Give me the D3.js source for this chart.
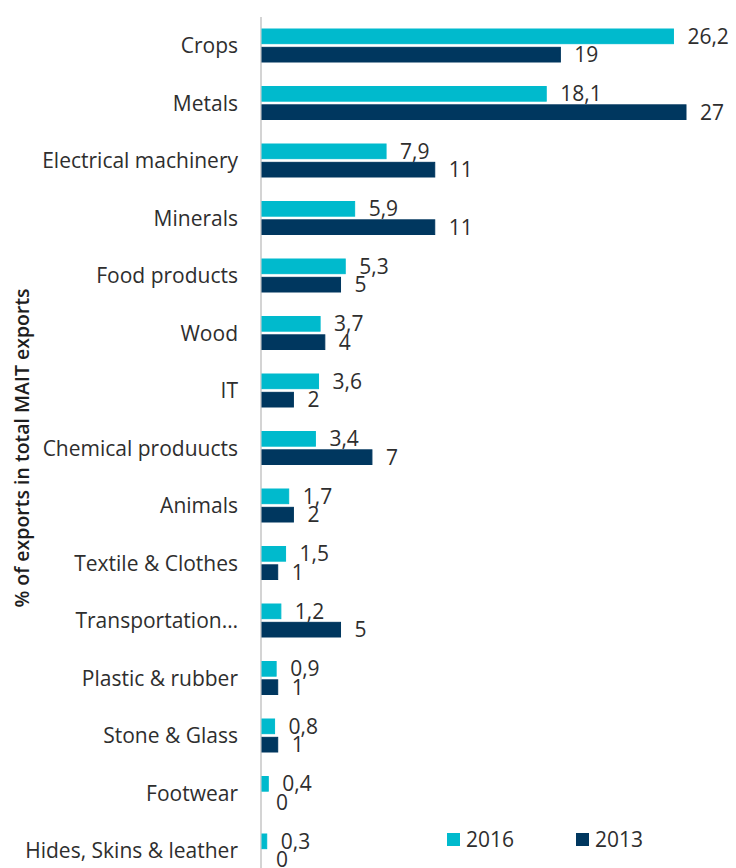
<!DOCTYPE html>
<html>
<head>
<meta charset="utf-8">
<script src="https://cdn.jsdelivr.net/npm/d3@7"></script>
<style>
  html, body { margin: 0; padding: 0; background: #fff; }
  svg { display: block; }
  text { font-family: "Open Sans", "Liberation Sans", sans-serif; }
</style>
</head>
<body>
<svg id="chart" width="736" height="868"></svg>
<script>
// Share of each product group in total MAIT exports, 2016 vs 2013 (%)
const categories = [
  "Crops", "Metals", "Electrical machinery", "Minerals", "Food products",
  "Wood", "IT", "Chemical produucts", "Animals", "Textile & Clothes",
  "Transportation…", "Plastic & rubber", "Stone & Glass", "Footwear",
  "Hides, Skins & leather"
];
const seriesNames = ["2016", "2013"];
const values2016 = [26.2, 18.1, 7.9, 5.9, 5.3, 3.7, 3.6, 3.4, 1.7, 1.5, 1.2, 0.9, 0.8, 0.4, 0.3];
const values2013 = [19, 27, 11, 11, 5, 4, 2, 7, 2, 1, 5, 1, 1, 0, 0];
const axisTitle = "% of exports in total MAIT exports";

const colors = { "2016": "#00BACD", "2013": "#00375F" };
const textColor = "#2E2E2E";

const rows = categories.map((c, i) => ({
  category: c,
  series: [
    { name: "2016", value: values2016[i] },
    { name: "2013", value: values2013[i] }
  ]
}));

const svg = d3.select("#chart");

const x = d3.scaleLinear().domain([0, 27]).range([262, 686]);
const y = d3.scaleBand().domain(categories).range([16.75, 879.25]).padding(0);
const half = y.bandwidth() / 2;
const ySub = d3.scaleBand().domain(seriesNames)
  .range([half - 16.5, half + 16.5]).paddingInner(0.2);

const fmt = v => String(v).replace(".", ",");

// vertical category axis line
svg.append("line")
  .attr("x1", 261).attr("x2", 261)
  .attr("y1", 17).attr("y2", 868)
  .attr("stroke", "#D4D4D4").attr("stroke-width", 2);

const groups = svg.append("g").selectAll("g")
  .data(rows).join("g")
  .attr("transform", d => `translate(0,${y(d.category)})`);

groups.selectAll("rect")
  .data(d => d.series).join("rect")
  .attr("x", x(0))
  .attr("y", d => ySub(d.name))
  .attr("width", d => x(d.value) - x(0))
  .attr("height", ySub.bandwidth())
  .attr("fill", d => colors[d.name])
  .attr("stroke", d => colors[d.name])
  .attr("stroke-width", 1);

groups.selectAll("text.val")
  .data(d => d.series).join("text")
  .attr("class", "val")
  .attr("x", d => x(d.value) + 14)
  .attr("y", d => ySub(d.name) + ySub.bandwidth() / 2)
  .attr("dy", "0.36em")
  .attr("font-size", 21)
  .attr("fill", textColor)
  .text(d => fmt(d.value));

// category labels
svg.append("g").selectAll("text")
  .data(categories).join("text")
  .attr("x", 238)
  .attr("y", d => y(d) + half)
  .attr("dy", "0.36em")
  .attr("text-anchor", "end")
  .attr("font-size", 21)
  .attr("fill", textColor)
  .text(d => d);

// axis title
svg.append("text")
  .attr("transform", "translate(22,448) rotate(-90)")
  .attr("text-anchor", "middle")
  .attr("dy", "0.36em")
  .attr("font-size", 19.5)
  .attr("font-weight", 600)
  .attr("fill", "#1E1E1E")
  .text(axisTitle);

// legend
const legend = svg.append("g").selectAll("g")
  .data(seriesNames).join("g")
  .attr("transform", (d, i) => `translate(${447 + i * 129},833)`);
legend.append("rect")
  .attr("width", 13).attr("height", 13)
  .attr("fill", d => colors[d]);
legend.append("text")
  .attr("x", 19).attr("y", 6.5).attr("dy", "0.36em")
  .attr("font-size", 21)
  .attr("fill", textColor)
  .text(d => d);
</script>
</body>
</html>
